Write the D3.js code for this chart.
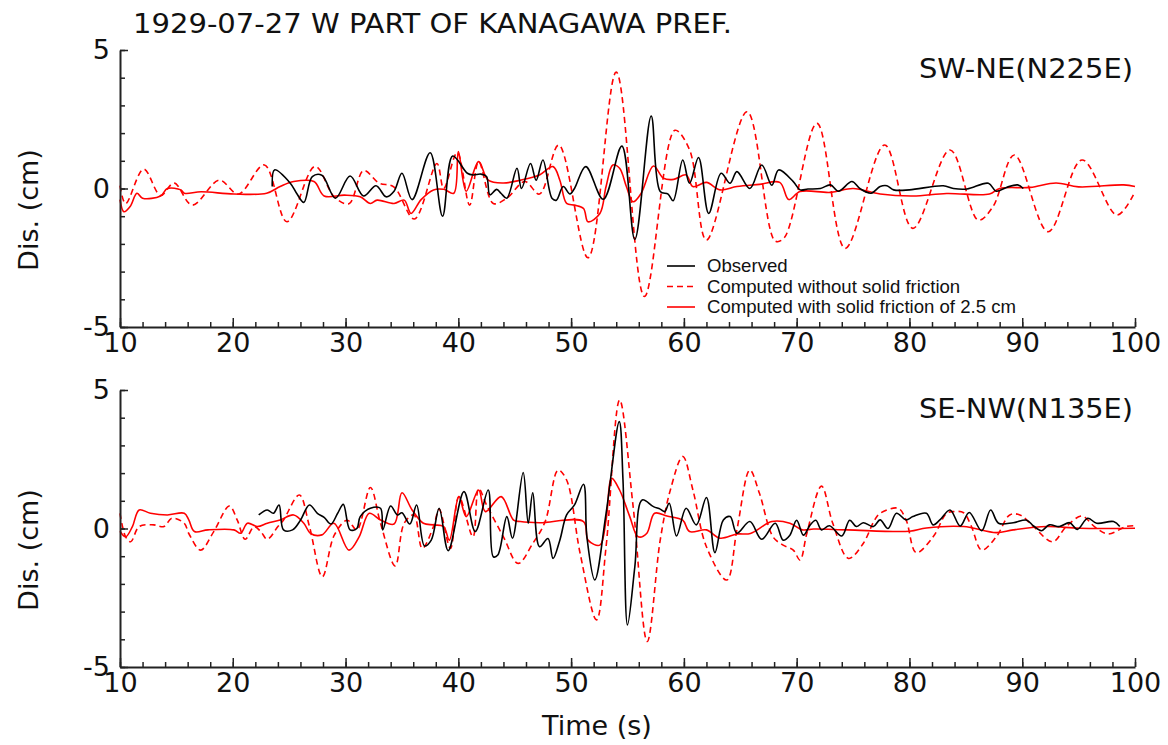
<!DOCTYPE html>
<html>
<head>
<meta charset="utf-8">
<script src="https://cdn.jsdelivr.net/npm/d3@7"></script>
<style>
  html, body { margin: 0; padding: 0; background: #fff; }
  svg { display: block; }
</style>
</head>
<body>
<main></main>
<script>
// Title and panel labels
const title = "1929-07-27 W PART OF KANAGAWA PREF.";
const panelNames = ["SW-NE(N225E)", "SE-NW(N135E)"];
const legendLabels = ["Observed", "Computed without solid friction", "Computed with solid friction of 2.5 cm"];
const xTicks = [10, 20, 30, 40, 50, 60, 70, 80, 90, 100];
const yTicks = [-5, 0, 5];

// SW-NE component: [time (s), displacement (cm)]
const swObserved = [
  [23.5, 0.07], [23.7, 0.67], [25.1, 0.19], [25.7, -0.2], [26.3, -0.5], [27.05, 0.43], [27.9, 0.48],
  [29.1, -0.35], [30.4, 0.45], [31.6, -0.27], [32.7, 0.1], [33.6, -0.3], [34.3, -0.1], [35.0, 0.55],
  [35.9, -0.4], [37.5, 1.29], [38.6, -1.0], [39.5, 1.17], [40.8, 0.55], [41.3, 0.49], [42.0, 0.52],
  [42.5, 0.43], [42.8, -0.23], [43.4, -0.03], [43.8, -0.18], [44.3, -0.35], [45.2, 0.73], [45.6, 0.0],
  [46.4, 0.9], [46.9, 0.3], [47.5, 1.03], [48.3, -0.35], [48.7, -0.42], [49.3, 0.07], [49.9, -0.2],
  [50.3, 0.0], [51.3, 0.79], [52.85, -0.39], [54.5, 1.53], [55.65, -1.84], [57.1, 2.62], [57.9, -0.11],
  [58.6, -0.2], [59.05, -0.44], [59.9, 1.03], [60.5, 0.19], [61.3, 1.12], [62.2, -0.9], [63.3, 0.55],
  [64.1, 0.19], [64.7, 0.61], [65.85, 0.0], [66.9, 0.85], [67.8, 0.12], [68.4, 0.67], [69.7, 0.25],
  [70.3, -0.05], [71.0, -0.02], [72.1, 0.0], [73.0, 0.13], [73.7, -0.1], [74.9, 0.25], [75.6, 0.0],
  [76.6, -0.17], [77.4, 0.07], [78.0, 0.1], [78.6, -0.05], [80.0, -0.05], [83.0, 0.1], [83.9, 0.0],
  [85.1, -0.02], [87.0, 0.19], [87.7, -0.1], [88.6, 0.04], [89.6, 0.13], [90.1, 0.0]
];
const swNoFriction = [
  [10.0, 0.1], [10.5, -0.55], [12.1, 0.7], [13.6, -0.25], [14.8, 0.2], [16.4, -0.6], [18.8, 0.3],
  [20.5, -0.2], [22.8, 0.85], [24.8, -1.2], [27.3, 0.8], [29.0, -0.3], [30.3, -0.55], [31.6, 0.65],
  [32.96, 0.2], [34.3, 0.05], [36.1, -1.1], [38.1, 0.9], [38.7, 0.0], [39.9, 1.3], [41.0, -0.6],
  [41.8, 0.97], [43.1, -0.54], [44.3, -0.35], [45.9, 0.25], [47.2, -0.2], [48.9, 1.57], [51.5, -2.5],
  [54.0, 4.2], [56.5, -3.9], [59.2, 2.1], [60.5, 1.4], [62.0, -1.86], [65.6, 2.77], [68.1, -1.9],
  [68.9, -1.78], [71.8, 2.35], [74.3, -2.16], [77.8, 1.57], [80.3, -1.44], [83.6, 1.39], [86.1, -1.14],
  [87.4, -0.66], [89.3, 1.21], [92.3, -1.56], [95.3, 1.03], [98.4, -0.96], [100.0, -0.11]
];
const swFriction = [
  [10.0, -0.4], [10.35, -0.84], [10.9, -0.65], [11.5, -0.17], [12.0, -0.35], [13.6, -0.27], [14.2, 0.0],
  [15.4, -0.05], [15.7, -0.17], [17.2, -0.12], [20.1, -0.2], [23.0, -0.17], [24.2, 0.07], [25.4, 0.25],
  [27.2, 0.25], [28.1, -0.27], [29.9, -0.24], [31.3, -0.3], [32.2, -0.54], [32.8, -0.42], [34.3, -0.54],
  [35.2, -0.42], [35.8, -0.9], [36.7, -0.4], [37.8, -0.05], [38.7, -0.03], [39.6, -0.17], [40.0, 1.33],
  [40.7, -0.1], [41.8, 0.97], [42.65, 0.3], [44.0, 0.2], [45.5, 0.3], [47.2, 0.49], [48.4, 0.79],
  [49.0, 0.3], [49.6, -0.54], [50.3, -0.6], [51.1, -0.72], [51.5, -1.2], [52.55, -0.9], [53.1, 0.07],
  [53.7, 0.85], [54.3, 0.73], [54.9, 0.07], [55.5, -0.48], [56.2, -0.18], [57.3, 0.81], [58.2, 0.37],
  [59.1, 0.33], [60.2, 0.49], [60.8, 0.07], [62.0, 0.22], [63.2, -0.05], [64.7, 0.07], [66.7, 0.15],
  [68.5, 0.22], [69.3, -0.4], [70.3, -0.11], [73.0, -0.14], [75.0, 0.0], [77.4, -0.2], [80.3, -0.27],
  [83.3, -0.18], [87.1, -0.2], [88.0, 0.0], [90.7, 0.04], [93.0, 0.2], [95.0, 0.06], [99.0, 0.13],
  [100.0, 0.07]
];

// SE-NW component
const seObserved = [
  [22.3, 0.49], [23.06, 0.67], [23.6, 0.55], [24.1, 0.85], [24.5, -0.05], [25.3, -0.05], [26.0, 0.3],
  [26.8, 0.85], [27.5, 0.55], [28.1, 0.4], [28.7, 0.16], [29.3, 0.55], [29.8, 0.87], [30.4, -0.05],
  [31.0, 0.0], [31.3, 0.43], [32.2, 0.73], [33.1, 0.73], [33.3, -0.05], [34.0, 0.81], [34.6, 0.49],
  [35.0, 0.57], [35.7, 0.16], [36.3, 0.85], [37.0, -0.63], [37.6, -0.42], [38.3, 0.73], [39.1, -0.8],
  [40.5, 1.33], [41.5, -0.11], [42.65, 1.39], [43.1, -1.02], [43.5, -0.96], [44.3, 0.43], [44.8, -0.35],
  [45.75, 2.02], [46.2, 0.19], [46.6, 1.29], [47.2, -0.66], [47.95, -0.36], [48.4, -1.08], [49.0, -0.42],
  [49.6, 0.49], [50.3, 0.85], [51.1, 1.6], [51.4, -0.3], [52.1, -1.86], [53.1, 0.55], [54.27, 3.86],
  [54.6, 1.75], [55.0, -3.48], [55.65, -1.38], [56.3, 1.03], [57.3, 0.79], [57.9, 0.7], [58.3, 0.61],
  [58.7, 0.91], [59.35, -0.27], [60.2, 0.73], [61.1, 0.13], [62.0, 1.12], [62.75, -0.87], [63.5, 0.31],
  [64.1, 0.43], [64.7, -0.17], [65.85, 0.25], [66.9, -0.39], [68.1, 0.19], [68.8, -0.42], [69.4, -0.24],
  [70.0, 0.3], [70.6, -0.24], [71.2, 0.13], [71.7, 0.3], [72.2, -0.05], [72.9, 0.1], [74.0, -0.27],
  [74.7, 0.3], [75.3, 0.07], [75.9, 0.21], [76.8, 0.07], [77.4, 0.31], [78.1, 0.0], [78.85, 0.55],
  [79.7, 0.31], [80.3, 0.43], [81.5, 0.55], [82.1, 0.13], [82.7, 0.31], [83.6, 0.67], [84.5, 0.09],
  [85.3, 0.58], [86.4, -0.08], [87.2, 0.67], [87.9, 0.19], [89.2, 0.21], [90.4, 0.3], [91.0, 0.09],
  [91.7, -0.08], [92.4, 0.13], [93.3, 0.07], [94.2, 0.21], [94.9, -0.03], [95.8, 0.37], [96.6, 0.19],
  [98.1, 0.25], [98.65, 0.07]
];
const seNoFriction = [
  [10.0, 0.55], [10.5, -0.3], [10.95, -0.48], [11.7, 0.07], [13.0, 0.13], [13.9, 0.07], [14.6, 0.37],
  [15.7, 0.19], [16.1, -0.18], [17.15, -0.78], [18.3, -0.12], [19.7, 0.81], [20.4, 0.3], [21.1, -0.39],
  [21.9, 0.07], [22.5, -0.12], [23.06, -0.39], [24.0, 0.07], [24.5, 0.31], [25.9, 1.21], [26.8, 0.07],
  [27.94, -1.74], [29.0, -0.24], [30.15, 0.3], [31.0, -0.05], [32.2, 1.48], [33.1, 0.19], [34.4, -1.35],
  [35.2, 0.19], [36.06, 0.49], [36.8, -0.72], [37.8, 0.07], [38.3, 0.69], [39.3, -0.72], [40.05, 1.15],
  [41.3, -0.3], [41.8, 1.45], [42.5, 0.85], [44.0, -0.3], [45.3, -1.26], [46.6, -0.54], [47.7, 0.25],
  [48.85, 2.11], [49.6, 1.75], [50.8, -0.9], [52.25, -3.3], [53.1, -0.66], [54.3, 4.64], [55.5, 0.79],
  [56.75, -4.08], [57.9, -0.42], [58.8, 1.39], [59.9, 2.6], [60.8, 1.39], [62.0, -0.66], [63.8, -1.86],
  [64.7, -0.05], [65.85, 2.11], [66.7, 1.27], [67.9, -0.3], [68.8, -0.6], [69.7, -0.78], [70.3, -1.14],
  [70.9, -0.18], [72.2, 1.53], [73.2, 0.19], [74.6, -1.08], [75.9, -0.54], [76.9, 0.3], [77.4, 0.55],
  [79.0, 0.73], [79.7, 0.31], [80.6, -0.87], [82.1, -0.3], [83.3, 0.55], [83.9, 0.61], [84.8, 0.57],
  [85.5, 0.07], [86.4, -0.78], [87.7, -0.3], [88.9, 0.49], [89.8, 0.49], [91.0, 0.07], [92.7, -0.48],
  [93.9, 0.07], [95.3, 0.45], [96.4, 0.07], [97.6, -0.2], [99.2, 0.07], [100.0, 0.1]
];
const seFriction = [
  [10.0, -0.1], [10.5, -0.3], [11.1, 0.07], [11.7, 0.67], [12.7, 0.55], [14.2, 0.49], [15.7, 0.55],
  [16.1, 0.31], [16.6, -0.11], [17.8, -0.05], [20.1, -0.05], [20.7, -0.17], [21.3, 0.19], [22.2, 0.07],
  [23.06, 0.19], [24.2, 0.31], [25.4, 0.49], [26.3, 0.19], [26.9, -0.18], [27.9, -0.23], [28.97, 0.19],
  [30.3, -0.78], [31.2, -0.3], [32.1, 0.55], [33.1, 0.31], [34.3, 0.16], [35.0, 1.29], [35.9, 0.67],
  [36.9, 0.19], [37.8, 0.13], [38.7, 0.07], [39.2, -0.42], [40.05, 1.15], [40.7, 0.43], [41.8, 1.39],
  [42.4, 0.61], [43.8, 1.15], [44.9, 0.3], [45.5, 0.25], [47.2, 0.21], [51.1, 0.25], [51.5, -0.42],
  [52.55, -0.6], [53.1, 0.31], [53.6, 1.81], [54.3, 1.39], [55.2, 0.43], [55.95, -0.3], [56.7, -0.18],
  [57.4, 0.55], [58.5, 0.45], [59.9, 0.3], [60.5, -0.11], [62.0, -0.05], [63.2, -0.35], [64.7, -0.2],
  [65.9, -0.18], [67.8, 0.25], [69.4, 0.19], [70.5, -0.05], [71.5, -0.02], [74.5, -0.05], [80.0, -0.1],
  [81.5, 0.02], [84.8, 0.07], [87.7, -0.15], [89.2, -0.05], [92.2, 0.07], [95.1, 0.01], [100.0, 0.01]
];

const panels = [
  { name: panelNames[0], series: [swObserved, swNoFriction, swFriction] },
  { name: panelNames[1], series: [seObserved, seNoFriction, seFriction] }
];
const styles = [
  { stroke: "#000", dash: null },
  { stroke: "#ff0000", dash: "6,4" },
  { stroke: "#ff0000", dash: null }
];

const width = 1168, height = 745;
const left = 120, right = 1135;
const panelTops = [50, 390];
const panelH = 277;

const svg = d3.select("main")
  .append("svg")
  .attr("width", width)
  .attr("height", height)
  .style("background", "#fff");

const x = d3.scaleLinear().domain([10, 100]).range([left, right]);

svg.append("text")
  .attr("x", 133)
  .attr("y", 33)
  .attr("font-family", "DejaVu Sans")
  .attr("font-size", 27)
  .attr("textLength", 599)
  .attr("lengthAdjust", "spacingAndGlyphs")
  .attr("fill", "#111")
  .text(title);

panels.forEach((p, i) => {
  const top = panelTops[i];
  const y = d3.scaleLinear().domain([-5, 5]).range([top + panelH, top]);
  const g = svg.append("g");

  // Traces: computed curves first, observed on top.
  const line = d3.line()
    .x((d) => x(d[0]))
    .y((d) => y(d[1]))
    .curve(d3.curveCatmullRom.alpha(0.5));

  [2, 1, 0].forEach((k) => {
    g.append("path")
      .datum(p.series[k])
      .attr("d", line)
      .attr("fill", "none")
      .attr("stroke", styles[k].stroke)
      .attr("stroke-width", 1.6)
      .attr("stroke-dasharray", styles[k].dash);
  });

  // Minor and major ticks, pointing inward.
  g.append("g")
    .attr("transform", `translate(0,${top + panelH})`)
    .call(d3.axisBottom(x).tickValues(d3.range(10, 101, 2)).tickSize(-5).tickSizeOuter(0).tickFormat(""))
    .call((a) => a.select(".domain").remove());
  g.append("g")
    .attr("transform", `translate(${left},0)`)
    .call(d3.axisLeft(y).tickValues(d3.range(-5, 6, 1)).tickSize(-5).tickSizeOuter(0).tickFormat(""))
    .call((a) => a.select(".domain").remove());

  const xAxis = g.append("g")
    .attr("transform", `translate(0,${top + panelH})`)
    .call(d3.axisBottom(x).tickValues(xTicks).tickSize(-9).tickSizeOuter(0).tickPadding(6)
      .tickFormat((d) => String(d)));
  const yAxis = g.append("g")
    .attr("transform", `translate(${left},0)`)
    .call(d3.axisLeft(y).tickValues(yTicks).tickSize(-8).tickSizeOuter(0).tickPadding(10)
      .tickFormat((d) => String(d)));

  [xAxis, yAxis].forEach((a) => {
    a.select(".domain").attr("stroke", "#222").attr("stroke-width", 2);
    a.selectAll("text")
      .attr("font-family", "DejaVu Sans")
      .attr("font-size", 27)
      .attr("fill", "#111");
  });
  g.selectAll(".tick line").attr("stroke", "#222").attr("stroke-width", 1.5);

  g.append("text")
    .attr("transform", `translate(38,${top + 160}) rotate(-90)`)
    .attr("text-anchor", "middle")
    .attr("font-family", "DejaVu Sans")
    .attr("font-size", 27)
    .attr("fill", "#111")
    .text("Dis. (cm)");

  g.append("text")
    .attr("x", 1133)
    .attr("y", top + 28)
    .attr("text-anchor", "end")
    .attr("font-family", "DejaVu Sans")
    .attr("font-size", 27)
    .attr("textLength", 214)
    .attr("lengthAdjust", "spacingAndGlyphs")
    .attr("fill", "#111")
    .text(p.name);
});

// Legend in the top panel
const legend = svg.append("g").attr("transform", "translate(667,266)");
legendLabels.forEach((label, k) => {
  const row = legend.append("g").attr("transform", `translate(0,${k * 20.5})`);
  row.append("line")
    .attr("x1", 0).attr("x2", 28)
    .attr("stroke", styles[k].stroke)
    .attr("stroke-width", 1.6)
    .attr("stroke-dasharray", styles[k].dash);
  row.append("text")
    .attr("x", 40)
    .attr("y", 6)
    .attr("font-family", "Liberation Sans")
    .attr("font-size", 18.6)
    .attr("fill", "#111")
    .text(label);
});

svg.append("text")
  .attr("x", 597)
  .attr("y", 735)
  .attr("text-anchor", "middle")
  .attr("font-family", "DejaVu Sans")
  .attr("font-size", 27)
  .attr("fill", "#111")
  .text("Time (s)");
</script>
</body>
</html>
